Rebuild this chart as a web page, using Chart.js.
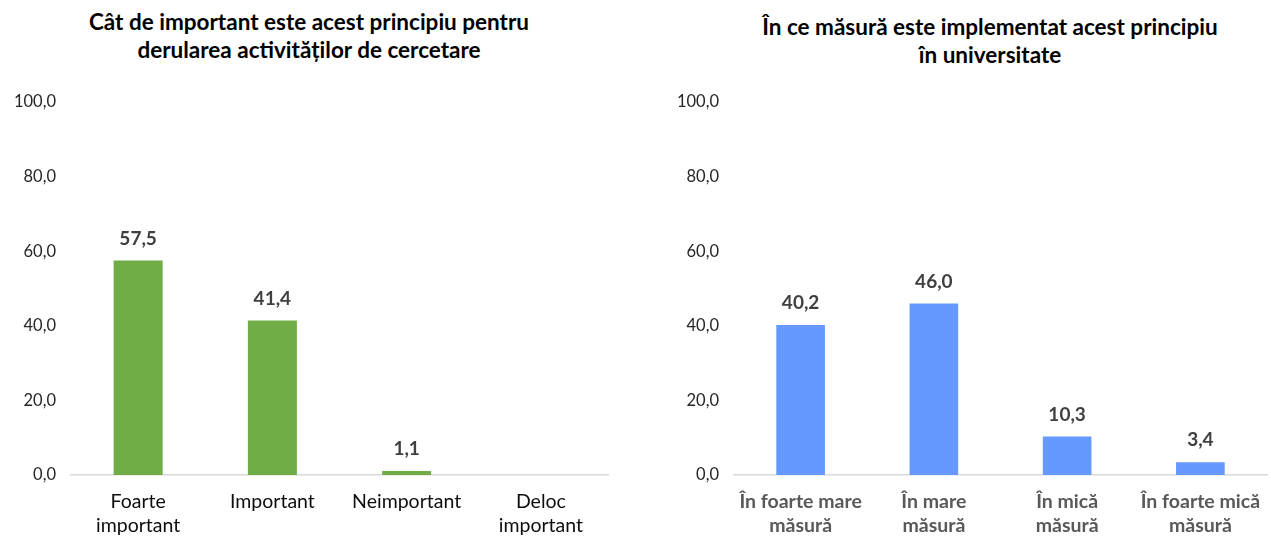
<!DOCTYPE html>
<html>
<head>
<meta charset="utf-8">
<script src="https://cdn.jsdelivr.net/npm/chart.js@4/dist/chart.umd.min.js"></script>
<style>
  html, body { margin: 0; padding: 0; background: #fff; }
  body { width: 1271px; height: 540px; position: relative; overflow: hidden; font-family: Lato, "Open Sans", sans-serif; }
  .title { position: absolute; font-weight: bold; font-size: 22.5px; line-height: 28px; color: #000; text-align: center; white-space: nowrap; }
  .wrap { position: absolute; top: 0; height: 540px; }
</style>
</head>
<body>
<div class="title" id="t1" style="left:9px; width:600px; top:8px;"></div>
<div class="title" id="t2" style="left:690px; width:600px; top:13px;"></div>
<div class="wrap" style="left:0; width:640px;"><canvas id="c1" width="640" height="540"></canvas></div>
<div class="wrap" style="left:640px; width:631px;"><canvas id="c2" width="631" height="540"></canvas></div>
<script>
// ---- data ----
const title1 = ["Cât de important este acest principiu pentru", "derularea activităților de cercetare"];
const title2 = ["În ce măsură este implementat acest principiu", "în universitate"];
const categories1 = [["Foarte", "important"], "Important", "Neimportant", ["Deloc", "important"]];
const values1 = [57.5, 41.4, 1.1, null];
const categories2 = [["În foarte mare", "măsură"], ["În mare", "măsură"], ["În mică", "măsură"], ["În foarte mică", "măsură"]];
const values2 = [40.2, 46.0, 10.3, 3.4];
const yTicks = [0, 20, 40, 60, 80, 100];

document.getElementById('t1').innerHTML = title1.join('<br>');
document.getElementById('t2').innerHTML = title2.join('<br>');

const fmt = v => v.toFixed(1).replace('.', ',');
const FAM = 'Lato, "Open Sans", sans-serif';

const valueLabels = {
  id: 'valueLabels',
  afterDatasetsDraw(chart) {
    const ctx = chart.ctx;
    const meta = chart.getDatasetMeta(0);
    ctx.save();
    ctx.font = 'bold 19px ' + FAM;
    ctx.fillStyle = '#404040';
    ctx.textAlign = 'center';
    ctx.textBaseline = 'middle';
    meta.data.forEach((bar, i) => {
      const v = chart.data.datasets[0].data[i];
      if (v === null || v === undefined) return;
      ctx.fillText(fmt(v), bar.x, bar.y - 22);
    });
    ctx.restore();
  }
};

function makeChart(id, cats, vals, color, yWidth, padRight, xFont, xColor) {
  return new Chart(document.getElementById(id), {
    type: 'bar',
    data: {
      labels: cats,
      datasets: [{ data: vals, backgroundColor: color, categoryPercentage: 1, barPercentage: 0.365 }]
    },
    options: {
      responsive: false,
      animation: false,
      layout: { padding: { top: 102, right: padRight, left: 0, bottom: 0 } },
      plugins: { legend: { display: false }, tooltip: { enabled: false }, title: { display: false } },
      scales: {
        x: {
          grid: { display: false, drawTicks: false },
          border: { display: true, color: '#d9d9d9', width: 1.5 },
          ticks: { font: xFont, color: xColor, padding: 15, maxRotation: 0, autoSkip: false },
          afterFit(s) { s.height = 65; s.paddingLeft = 0; s.paddingRight = 0; }
        },
        y: {
          min: 0, max: 100,
          afterBuildTicks(s) { s.ticks = yTicks.map(v => ({ value: v })); },
          grid: { display: false, drawTicks: false },
          border: { display: false },
          ticks: { font: { size: 16.5, family: FAM }, color: '#262626', padding: 15, callback: v => fmt(v) },
          afterFit(s) { s.width = yWidth; }
        }
      }
    },
    plugins: [valueLabels]
  });
}

makeChart('c1', categories1, values1, '#70AD47', 71, 32,
  { size: 19.5, family: FAM, lineHeight: 1.23 }, '#0d0d0d');
makeChart('c2', categories2, values2, '#6699FF', 94, 4,
  { size: 19.5, weight: 'bold', family: FAM, lineHeight: 1.23 }, '#595959');
</script>
</body>
</html>
